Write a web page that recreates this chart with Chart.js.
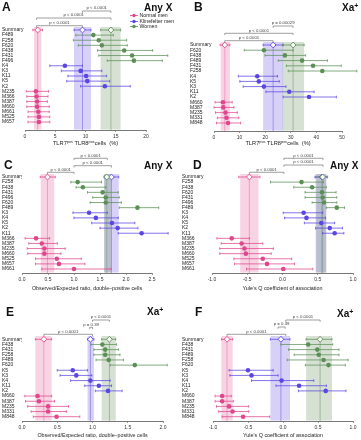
<!DOCTYPE html>
<html><head><meta charset="utf-8">
<script src="https://cdn.jsdelivr.net/npm/chart.js@4"></script>
<style>
html,body{margin:0;padding:0;background:#fff;}
body{width:361px;height:440px;position:relative;overflow:hidden;font-family:'Liberation Sans',Arial,sans-serif;}
canvas{position:absolute;}
.t{position:absolute;white-space:nowrap;line-height:1;color:#111;font-weight:bold;}
.letter{font-size:12px;}
.sub{font-size:10px;}
.sub .p{font-size:7px;position:relative;top:-3.5px;}
.leg{position:absolute;left:130px;top:13px;font-size:5.2px;line-height:5.5px;color:#222;white-space:nowrap;}
.leg div{height:5.5px;display:flex;align-items:center;}
.leg svg{margin-right:1.5px;}
</style></head>
<body>
<canvas id="cA"></canvas><canvas id="cB"></canvas>
<canvas id="cC"></canvas><canvas id="cD"></canvas>
<canvas id="cE"></canvas><canvas id="cF"></canvas>
<div class="t letter" style="left:2px;top:0.5px">A</div>
<div class="t letter" style="left:194px;top:0.5px">B</div>
<div class="t letter" style="left:4px;top:158.5px">C</div>
<div class="t letter" style="left:193px;top:158.5px">D</div>
<div class="t letter" style="left:6px;top:305.5px">E</div>
<div class="t letter" style="left:195px;top:305.5px">F</div>
<div class="t sub" style="left:144px;top:3px">Any X</div>
<div class="t sub" style="left:342px;top:3px">Xa<span class="p">+</span></div>
<div class="t sub" style="left:144px;top:161px">Any X</div>
<div class="t sub" style="left:330px;top:161px">Any X</div>
<div class="t sub" style="left:147px;top:307px">Xa<span class="p">+</span></div>
<div class="t sub" style="left:337px;top:309px">Xa<span class="p">+</span></div>
<div class="leg" id="legend"></div>
<script>
// ---------- DATA ----------
const groupNames = ['Normal men', 'Klinefelter men', 'Women'];

// Panel A: TLR7pos TLR8pos cells (%), Any X
const A_rows = ['Summary','F489','F258','F620','F438','F431','F496','K4','K3','K11','K5','K2','M235','M366','M387','M660','M661','M525','M657'];
const A_est  = [null,11.3,12.2,12.7,16.4,17.7,18.0,6.6,9.2,10.1,10.3,13.2,1.8,1.9,2.0,2.0,2.2,2.3,2.3];
const A_lo   = [null,8.4,8.0,8.8,12.0,12.2,13.6,4.1,6.0,7.1,6.9,9.2,0.2,0.3,0.3,0.3,0.5,0.5,0.5];
const A_hi   = [null,14.6,16.8,16.9,21.1,23.6,22.7,9.5,12.7,13.5,14.0,17.4,3.9,3.8,3.7,4.0,4.0,4.1,4.1];
const A_sumEst = [2.1, 9.5, 14.2];
const A_sumLo  = [1.3, 8.1, 12.5];
const A_sumHi  = [2.9, 10.9, 15.8];
const A_bandLo = [1.5, 8.1, 12.5];
const A_bandHi = [2.7, 10.9, 15.8];
const A_ticks  = [0, 5, 10, 15, 20];
const A_brFrom = [9.5, 1.9, 1.9];
const A_brTo   = [14.2, 14.2, 9.5];
const A_brP    = ['p < 0.0001', 'p < 0.0001', 'p < 0.0001'];

// Panel B: TLR7pos TLR8pos cells (%), Xa+
const B_rows = ['Summary','F620','F438','F489','F431','F258','K4','K5','K3','K11','K2','M660','M387','M235','M331','M848'];
const B_est  = [null,19.5,27.7,34.4,38.7,42.3,16.9,17.5,19.5,29.4,37.1,3.5,3.6,4.5,4.9,5.5];
const B_lo   = [null,11.8,19.9,25.1,28.3,29.0,9.5,10.1,11.4,20.3,27.0,0.4,0.0,0.6,1.3,1.0];
const B_hi   = [null,30.9,35.8,44.3,49.7,55.8,24.8,25.5,28.1,39.1,47.8,7.1,7.8,9.1,9.7,10.4];
const B_sumEst = [4.2, 23.1, 30.9];
const B_sumLo  = [2.4, 19.2, 26.8];
const B_sumHi  = [6.2, 27.0, 35.2];
const B_bandLo = [2.6, 19.2, 26.8];
const B_bandHi = [6.2, 27.0, 35.2];
const B_ticks  = [0, 10, 20, 30, 40, 50];
const B_brFrom = [23.1, 4.2, 4.2];
const B_brTo   = [30.9, 30.9, 23.1];
const B_brP    = ['p = 0.00029', 'p < 0.0001', 'p < 0.0001'];

// Panel C: Observed/Expected ratio, Any X
const C_rows = ['Summary','F258','F438','F431','F496','F620','F489','K3','K4','K5','K2','K11','M366','M387','M235','M660','M525','M657','M661'];
const C_est  = [null,1.07,1.17,1.55,1.61,1.61,2.22,1.29,1.42,1.73,1.84,2.30,0.27,0.38,0.43,0.43,0.67,0.71,1.00];
const C_lo   = [null,0.94,1.04,1.26,1.36,1.31,1.87,0.98,1.00,1.34,1.50,1.85,0.06,0.13,0.10,0.11,0.26,0.26,0.38];
const C_hi   = [null,1.53,1.61,1.85,1.87,1.91,2.63,1.64,1.85,2.17,2.23,2.81,0.53,0.68,0.83,0.75,1.14,1.21,1.71];
const C_sumEst = [0.49, 1.72, 1.63];
const C_sumLo  = [0.35, 1.58, 1.58];
const C_sumHi  = [0.64, 1.86, 1.71];
const C_bandLo = [0.36, 1.58, 1.58];
const C_bandHi = [0.62, 1.86, 1.71];
const C_ticks  = [0, 0.5, 1.0, 1.5, 2.0, 2.5];
const C_brFrom = [1.0, 1.0, 0.49];
const C_brTo   = [1.64, 1.72, 1.0];
const C_brP    = ['p < 0.0001', 'p < 0.0001', 'p < 0.0001'];

// Panel D: Yule's Q, Any X
const D_rows = ['Summary','F258','F438','F620','F431','F496','F489','K3','K4','K5','K2','K11','M366','M387','M235','M660','M525','M657','M661'];
const D_est  = [null,0.27,0.42,0.56,0.57,0.59,0.77,0.30,0.34,0.55,0.67,0.74,-0.72,-0.58,-0.54,-0.52,-0.28,-0.22,0.01];
const D_lo   = [null,-0.17,0.16,0.32,0.32,0.42,0.62,0.01,0.03,0.31,0.47,0.57,-0.93,-0.87,-0.89,-0.89,-0.69,-0.68,-0.51];
const D_hi   = [null,0.58,0.62,0.76,0.77,0.77,0.88,0.57,0.61,0.74,0.85,0.87,-0.47,-0.28,-0.13,-0.16,0.13,0.17,0.43];
const D_sumEst = [-0.47, 0.56, 0.57];
const D_sumLo  = [-0.62, 0.46, 0.47];
const D_sumHi  = [-0.32, 0.63, 0.64];
const D_bandLo = [-0.60, 0.47, 0.48];
const D_bandHi = [-0.34, 0.62, 0.62];
const D_ticks  = [-1.0, -0.5, 0, 0.5, 1.0];
const D_brFrom = [0.02, 0.02, -0.47];
const D_brTo   = [0.575, 0.575, 0.02];
const D_brP    = ['p < 0.0001', 'p < 0.0001', 'p < 0.0001'];

// Panel E: Observed/Expected ratio, Xa+
const E_rows = ['Summary','F438','F431','F258','F489','F620','K5','K3','K4','K11','K2','M660','M387','M235','M331','M848'];
const E_est  = [null,1.14,1.18,1.18,1.23,1.60,0.72,0.77,0.97,1.09,1.22,0.22,0.24,0.37,0.37,0.49];
const E_lo   = [null,0.98,1.02,1.02,1.05,1.25,0.50,0.54,0.69,0.89,1.04,0.04,0.05,0.08,0.13,0.16];
const E_hi   = [null,1.34,1.37,1.39,1.44,2.06,0.93,0.99,1.25,1.27,1.42,0.42,0.46,0.66,0.63,0.82];
const E_sumEst = [0.31, 0.97, 1.24];
const E_sumLo  = [0.19, 0.93, 1.13];
const E_sumHi  = [0.42, 1.02, 1.33];
const E_bandLo = [0.19, 0.93, 1.13];
const E_bandHi = [0.42, 1.02, 1.33];
const E_ticks  = [0, 0.5, 1.0, 1.5, 2.0];
const E_brFrom = [1.0, 0.96, 0.31];
const E_brTo   = [1.24, 1.0, 1.0];
const E_brP    = ['p < 0.0001', 'p = 0.39', 'p < 0.0001'];

// Panel F: Yule's Q, Xa+
const F_rows = ['Summary','F438','F431','F489','F258','F620','K5','K3','K4','K11','K2','M660','M387','M235','M331','M848'];
const F_est  = [null,0.36,0.49,0.51,0.58,0.65,-0.50,-0.45,-0.02,0.23,0.61,-0.87,-0.87,-0.77,-0.72,-0.57];
const F_lo   = [null,-0.03,0.08,0.16,0.06,0.32,-0.77,-0.76,-0.45,-0.10,0.22,-0.97,-0.97,-0.95,-0.92,-0.87];
const F_hi   = [null,0.71,0.80,0.80,0.93,0.89,-0.14,-0.07,0.44,0.62,0.90,-0.74,-0.71,-0.49,-0.49,-0.19];
const F_sumEst = [-0.80, -0.03, 0.53];
const F_sumLo  = [-0.88, -0.18, 0.33];
const F_sumHi  = [-0.72, 0.10, 0.70];
const F_bandLo = [-0.88, -0.18, 0.33];
const F_bandHi = [-0.72, 0.10, 0.70];
const F_ticks  = [-1.0, -0.5, 0, 0.5, 1.0];
const F_brFrom = [0.04, -0.07, -0.80];
const F_brTo   = [0.53, 0.03, 0.04];
const F_brP    = ['p < 0.0001', 'p = 0.39', 'p < 0.0001'];

const titleTLR = 'TLR7\u1D56\u1D52\u02E2 TLR8\u1D56\u1D52\u02E2cells  (%)';
const titleOE = 'Observed/Expected ratio, double\u2013positive cells';
const titleQ = "Yule's Q coefficient of association";

// ---------- STYLE ----------
const FONT = "'Liberation Sans', Arial, sans-serif";
const COL  = ['#e0468b', '#5a46e2', '#5b8f55'];
const LINE = ['#e58ab2', '#8577e4', '#88a582'];
const BAND = ['rgba(232,110,165,0.30)', 'rgba(110,90,230,0.28)', 'rgba(95,140,85,0.26)'];

function groupOf(label) { return label[0] === 'M' ? 0 : (label[0] === 'K' ? 1 : 2); }

function forest(P, L) {
  return {
    id: 'forest',
    beforeDatasetsDraw(chart) {
      const {ctx, chartArea: a, scales: {x, y}} = chart;
      ctx.save();
      for (let g = 0; g < 3; g++) {
        const x1 = x.getPixelForValue(P.bandLo[g]), x2 = x.getPixelForValue(P.bandHi[g]);
        ctx.fillStyle = BAND[g];
        ctx.fillRect(x1, a.top, x2 - x1, a.bottom - a.top - 0.5);
      }
      ctx.lineWidth = 0.7;
      for (let g = 0; g < 3; g++) {
        const xx = x.getPixelForValue(P.sumEst[g]);
        ctx.strokeStyle = LINE[g];
        ctx.beginPath(); ctx.moveTo(xx, a.top); ctx.lineTo(xx, a.bottom); ctx.stroke();
      }
      const bar = (lo, hi, yy, col) => {
        const x1 = x.getPixelForValue(lo), x2 = x.getPixelForValue(hi);
        ctx.strokeStyle = col; ctx.lineWidth = 0.75;
        ctx.beginPath();
        ctx.moveTo(x1, yy); ctx.lineTo(x2, yy);
        ctx.moveTo(x1, yy - 1.3); ctx.lineTo(x1, yy + 1.3);
        ctx.moveTo(x2, yy - 1.3); ctx.lineTo(x2, yy + 1.3);
        ctx.stroke();
      };
      P.rows.forEach((r, i) => {
        if (i === 0) return;
        bar(P.lo[i], P.hi[i], y.getPixelForValue(i), COL[groupOf(r)]);
      });
      for (let g = 0; g < 3; g++) bar(P.sumLo[g], P.sumHi[g], y.getPixelForValue(0), COL[g]);
      ctx.restore();
    },
    afterDraw(chart) {
      const {ctx, scales: {x}} = chart;
      ctx.save();
      ctx.strokeStyle = '#777'; ctx.lineWidth = 0.7; ctx.fillStyle = '#444';
      ctx.font = '4.3px ' + FONT; ctx.textAlign = 'center'; ctx.textBaseline = 'alphabetic';
      P.brFrom.forEach((f, k) => {
        const x1 = x.getPixelForValue(f), x2 = x.getPixelForValue(P.brTo[k]), yy = L.bracketY[k];
        ctx.beginPath();
        ctx.moveTo(x1, yy + 1.8); ctx.lineTo(x1, yy); ctx.lineTo(x2, yy); ctx.lineTo(x2, yy + 1.8);
        ctx.stroke();
        ctx.fillText(P.brP[k], (x1 + x2) / 2, yy - 1.6);
      });
      ctx.restore();
    }
  };
}

function makePanel(id, P, L) {
  const cv = document.getElementById(id);
  cv.width = L.w; cv.height = L.h;
  cv.style.left = L.x + 'px'; cv.style.top = L.y + 'px';
  cv.style.width = L.w + 'px'; cv.style.height = L.h + 'px';
  const n = P.rows.length;
  const s = (L.lastRow - L.firstRow) / (n - 1);
  const yMin = -(L.firstRow - L.top) / s;
  const yMax = (n - 1) + (L.bottom - L.lastRow) / s;
  const datasets = [];
  datasets.push({
    data: P.sumEst.map(v => ({x: v, y: 0})),
    pointStyle: 'rectRot', pointRadius: 2.9, pointBorderWidth: 0.9,
    pointBackgroundColor: '#fff', pointBorderColor: COL.slice(), clip: false
  });
  for (let g = 0; g < 3; g++) {
    const pts = [];
    P.rows.forEach((r, i) => { if (i > 0 && groupOf(r) === g) pts.push({x: P.est[i], y: i}); });
    datasets.push({
      data: pts, pointStyle: 'circle', pointRadius: 2.3, pointBorderWidth: 0,
      pointBackgroundColor: COL[g], pointBorderColor: COL[g], clip: false
    });
  }
  new Chart(cv, {
    type: 'scatter',
    data: {datasets},
    options: {
      responsive: false, animation: false, devicePixelRatio: 1,
      events: [],
      layout: {padding: {left: L.labelX, right: L.w - L.right, top: L.top, bottom: 0}},
      plugins: {legend: {display: false}, tooltip: {enabled: false}},
      scales: {
        x: {
          type: 'linear', min: P.ticks[0], max: P.ticks[P.ticks.length - 1],
          afterBuildTicks: sc => { sc.ticks = P.ticks.map(v => ({value: v})); },
          afterFit: sc => { sc.height = L.h - L.bottom; },
          ticks: {callback: v => P.dec ? Number(v).toFixed(P.dec) : String(v),
                  font: {size: 5, family: FONT}, color: '#333', padding: 1.5,
                  maxRotation: 0, autoSkip: false},
          grid: {display: true, drawOnChartArea: false, drawTicks: true, tickLength: 2,
                 color: '#555', lineWidth: 0.6},
          border: {display: true, color: '#555', width: 0.8},
          title: {display: true, text: P.title, color: '#222',
                  font: {size: L.titleSize, family: FONT}, padding: {top: 0, bottom: L.titlePad}}
        },
        y: {
          type: 'linear', reverse: true, min: yMin, max: yMax,
          afterBuildTicks: sc => { sc.ticks = P.rows.map((_, i) => ({value: i})); },
          afterFit: sc => { sc.width = L.left - L.labelX; },
          ticks: {callback: v => (P.rows[v] !== undefined ? P.rows[v] : ''),
                  font: {size: 5, family: FONT}, color: '#222', crossAlign: 'far',
                  padding: 0, autoSkip: false},
          grid: {display: false}, border: {display: false}
        }
      }
    },
    plugins: [forest(P, L)]
  });
}

const panels = [
  ['cA', {rows: A_rows, est: A_est, lo: A_lo, hi: A_hi, sumEst: A_sumEst, sumLo: A_sumLo, sumHi: A_sumHi,
          bandLo: A_bandLo, bandHi: A_bandHi, ticks: A_ticks, dec: 0, title: titleTLR,
          brFrom: A_brFrom, brTo: A_brTo, brP: A_brP},
         {x: 0, y: 0, w: 190, h: 147, labelX: 2, left: 25, right: 146, top: 27, bottom: 130,
          firstRow: 30, lastRow: 122, titlePad: 0.6, titleSize: 5.7, bracketY: [11, 18, 25.7]}],
  ['cB', {rows: B_rows, est: B_est, lo: B_lo, hi: B_hi, sumEst: B_sumEst, sumLo: B_sumLo, sumHi: B_sumHi,
          bandLo: B_bandLo, bandHi: B_bandHi, ticks: B_ticks, dec: 0, title: titleTLR,
          brFrom: B_brFrom, brTo: B_brTo, brP: B_brP},
         {x: 180, y: 0, w: 181, h: 147, labelX: 10, left: 34, right: 162, top: 42, bottom: 131,
          firstRow: 45, lastRow: 123, titlePad: 0.3, titleSize: 5.7, bracketY: [26, 33.3, 40.7]}],
  ['cC', {rows: C_rows, est: C_est, lo: C_lo, hi: C_hi, sumEst: C_sumEst, sumLo: C_sumLo, sumHi: C_sumHi,
          bandLo: C_bandLo, bandHi: C_bandHi, ticks: C_ticks, dec: 1, title: titleOE,
          brFrom: C_brFrom, brTo: C_brTo, brP: C_brP},
         {x: 0, y: 145, w: 180, h: 150, labelX: 2, left: 22, right: 152, top: 29, bottom: 128,
          firstRow: 32, lastRow: 124, titlePad: 2.8, titleSize: 5.3, bracketY: [13.3, 20.7, 27.3]}],
  ['cD', {rows: D_rows, est: D_est, lo: D_lo, hi: D_hi, sumEst: D_sumEst, sumLo: D_sumLo, sumHi: D_sumHi,
          bandLo: D_bandLo, bandHi: D_bandHi, ticks: D_ticks, dec: 1, title: titleQ,
          brFrom: D_brFrom, brTo: D_brTo, brP: D_brP},
         {x: 180, y: 145, w: 181, h: 150, labelX: 2, left: 32, right: 173, top: 29, bottom: 128,
          firstRow: 32, lastRow: 124, titlePad: 2.8, titleSize: 5.4, bracketY: [13.3, 20, 27.3]}],
  ['cE', {rows: E_rows, est: E_est, lo: E_lo, hi: E_hi, sumEst: E_sumEst, sumLo: E_sumLo, sumHi: E_sumHi,
          bandLo: E_bandLo, bandHi: E_bandHi, ticks: E_ticks, dec: 1, title: titleOE,
          brFrom: E_brFrom, brTo: E_brTo, brP: E_brP},
         {x: 0, y: 290, w: 180, h: 150, labelX: 2, left: 22, right: 163, top: 46, bottom: 131,
          firstRow: 49.3, lastRow: 126.7, titlePad: 1.1, titleSize: 5.3, bracketY: [30, 37.3, 44.3]}],
  ['cF', {rows: F_rows, est: F_est, lo: F_lo, hi: F_hi, sumEst: F_sumEst, sumLo: F_sumLo, sumHi: F_sumHi,
          bandLo: F_bandLo, bandHi: F_bandHi, ticks: F_ticks, dec: 1, title: titleQ,
          brFrom: F_brFrom, brTo: F_brTo, brP: F_brP},
         {x: 180, y: 290, w: 181, h: 150, labelX: 2, left: 33, right: 173, top: 46, bottom: 131,
          firstRow: 49.3, lastRow: 126.7, titlePad: 1.1, titleSize: 5.4, bracketY: [30, 37, 44.3]}]
];
panels.forEach(([id, P, L]) => makePanel(id, P, L));

// legend (panel A)
const leg = document.getElementById('legend');
groupNames.forEach((name, g) => {
  const d = document.createElement('div');
  d.innerHTML = '<svg width="8" height="5" viewBox="0 0 8 5"><line x1="0" y1="2.5" x2="8" y2="2.5" stroke="' + COL[g] +
    '" stroke-width="0.8"/><circle cx="4" cy="2.5" r="1.7" fill="' + COL[g] + '"/></svg>';
  d.appendChild(document.createTextNode(name));
  leg.appendChild(d);
});
</script>
</body></html>
